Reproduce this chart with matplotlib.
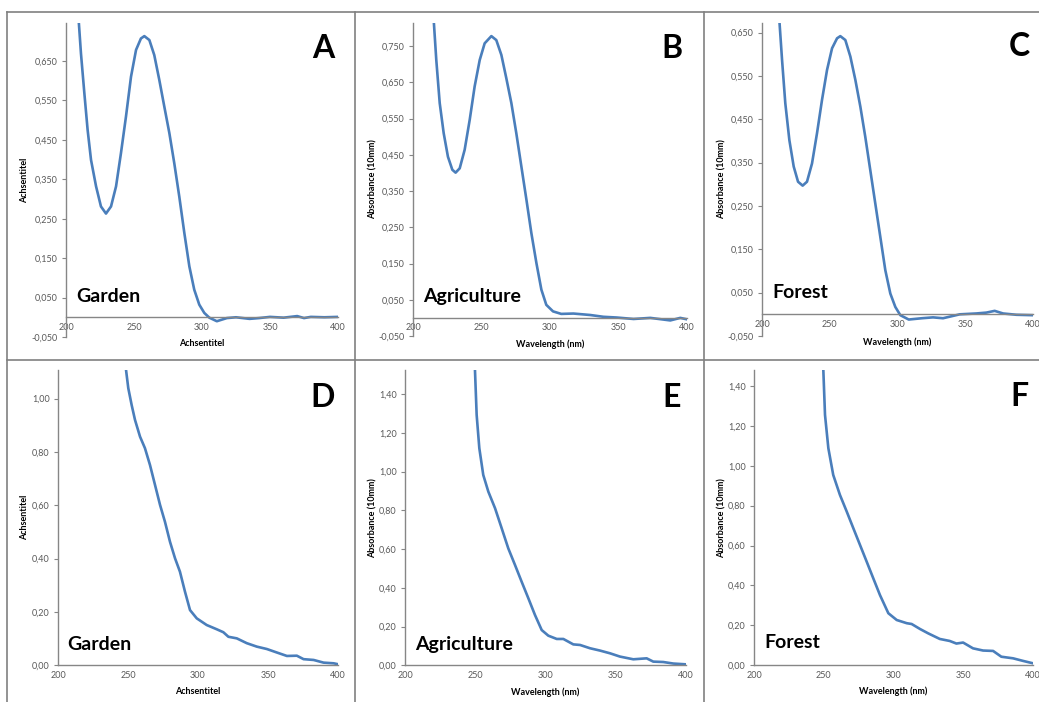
import numpy as np
import matplotlib
matplotlib.use("Agg")
import matplotlib.pyplot as plt
from matplotlib.ticker import FuncFormatter

W, H = 1039, 702

# --- data (wavelength nm, absorbance) ---
a_x = [209.3, 211.0, 213.5, 215.9, 218.4, 222.1, 225.7, 229.4, 233.1, 236.8, 240.4, 244.1,
       247.8, 251.5, 255.1, 257.6, 261.3, 264.9, 268.6, 272.3, 276.0, 279.6, 283.3, 287.0,
       290.7, 294.3, 298.0, 301.7, 305.4, 310.9, 318.3, 325, 335, 342, 350, 360, 370, 375,
       380, 390, 400]
a_y = [0.754, 0.669, 0.568, 0.475, 0.399, 0.332, 0.281, 0.263, 0.281, 0.332, 0.416, 0.509,
       0.610, 0.678, 0.707, 0.713, 0.703, 0.665, 0.602, 0.534, 0.467, 0.391, 0.306, 0.214,
       0.129, 0.070, 0.032, 0.011, -0.001, -0.010, -0.002, 0.0, -0.004, -0.002, 0.001, -0.001,
       0.003, -0.002, 0.001, 0.0, 0.001]

b_x = [215.1, 217.0, 219.5, 222.4, 225.5, 228.7, 231.1, 234.1, 237.7, 241.4, 245.0, 248.7,
       252.3, 257.2, 260.8, 264.5, 268.1, 271.8, 275.4, 279.1, 282.8, 286.4, 290.1, 293.7,
       297.3, 302.2, 308.2, 317.1, 329.3, 339.0, 348.8, 361.0, 373.2, 387.8, 395.1, 400]
b_y = [0.823, 0.712, 0.593, 0.510, 0.445, 0.409, 0.401, 0.413, 0.464, 0.547, 0.639, 0.712,
       0.758, 0.778, 0.767, 0.726, 0.662, 0.593, 0.510, 0.418, 0.326, 0.234, 0.151, 0.078,
       0.036, 0.018, 0.011, 0.012, 0.008, 0.003, 0.001, -0.003, 0.0, -0.007, 0.0, -0.004]

c_x = [212.8, 214.8, 217.2, 220.2, 223.4, 226.6, 230.0, 233.2, 236.9, 240.6, 244.3, 248.0,
       251.7, 255.4, 257.8, 261.5, 265.2, 268.9, 272.6, 276.2, 279.9, 283.6, 287.3, 291.0,
       294.7, 298.4, 302.1, 308.3, 318.0, 326.2, 333.6, 345.9, 358.2, 365.6, 371.7, 377.9,
       387.7, 400]
c_y = [0.679, 0.587, 0.487, 0.402, 0.341, 0.306, 0.297, 0.306, 0.348, 0.418, 0.495, 0.564,
       0.614, 0.637, 0.642, 0.633, 0.595, 0.541, 0.479, 0.410, 0.333, 0.256, 0.179, 0.102,
       0.048, 0.017, -0.002, -0.012, -0.009, -0.007, -0.009, 0.0, 0.002, 0.004, 0.008, 0.002,
       -0.001, -0.002]

d_x = [248.6, 250.2, 252.6, 255.0, 258.6, 262.1, 265.7, 269.3, 272.9, 276.4, 280.0, 283.6,
       287.1, 290.7, 294.3, 299.1, 306.2, 313.4, 318.1, 321.7, 327.7, 334.8, 342.0, 349.2,
       356.3, 363.5, 370.6, 375.4, 382.6, 389.7, 396.9, 400]
d_y = [1.107, 1.039, 0.976, 0.920, 0.857, 0.814, 0.751, 0.676, 0.601, 0.538, 0.463, 0.401,
       0.351, 0.276, 0.207, 0.176, 0.151, 0.135, 0.124, 0.107, 0.101, 0.083, 0.070, 0.061,
       0.048, 0.035, 0.036, 0.023, 0.020, 0.010, 0.0075, 0.004]

e_x = [249.8, 251.0, 252.9, 255.7, 259.3, 264.1, 268.8, 273.5, 278.3, 283.0, 287.8, 292.5,
       297.3, 302.0, 308.0, 312.7, 319.8, 324.6, 331.7, 338.8, 345.9, 353.0, 362.5, 372.0,
       376.7, 383.8, 391.0, 400]
e_y = [1.525, 1.293, 1.121, 0.983, 0.897, 0.811, 0.708, 0.604, 0.518, 0.432, 0.346, 0.260,
       0.182, 0.153, 0.136, 0.136, 0.108, 0.105, 0.088, 0.076, 0.062, 0.045, 0.031, 0.036,
       0.019, 0.017, 0.009, 0.005]

f_x = [249.7, 250.9, 253.3, 256.8, 261.6, 266.5, 271.2, 276.0, 280.8, 285.5, 290.3, 296.3,
       302.3, 309.5, 313.0, 319.0, 324.9, 333.2, 340.3, 345.1, 349.9, 357.0, 364.2, 371.4,
       377.3, 385.7, 392.9, 400]
f_y = [1.480, 1.255, 1.088, 0.954, 0.854, 0.770, 0.687, 0.603, 0.519, 0.436, 0.352, 0.261,
       0.227, 0.211, 0.207, 0.182, 0.160, 0.132, 0.122, 0.109, 0.114, 0.085, 0.074, 0.072,
       0.043, 0.035, 0.022, 0.010]

letters = ["A", "B", "C", "D", "E", "F"]
sites = ["Garden", "Agriculture", "Forest", "Garden", "Agriculture", "Forest"]
x_titles = ["Achsentitel", "Wavelength (nm)", "Wavelength (nm)",
            "Achsentitel", "Wavelength (nm)", "Wavelength (nm)"]
y_titles = ["Achsentitel", "Absorbance (10mm)", "Absorbance (10mm)",
            "Achsentitel", "Absorbance (10mm)", "Absorbance (10mm)"]

series = [(a_x, a_y), (b_x, b_y), (c_x, c_y), (d_x, d_y), (e_x, e_y), (f_x, f_y)]

# panel geometry in pixels: left, right, top, bottom, ymin, ymax, ytick max, step, decimals
panels = [
    (66, 338, 22.7, 337, -0.05, 0.747, 0.65, 0.1, 3),
    (413, 687, 22.7, 336, -0.05, 0.815, 0.75, 0.1, 3),
    (762, 1033, 22.7, 336, -0.05, 0.673, 0.65, 0.1, 3),
    (58, 338, 370, 665.3, 0.0, 1.107, 1.0, 0.2, 2),
    (405, 686, 370, 665.3, 0.0, 1.525, 1.4, 0.2, 2),
    (754, 1033, 370, 665.3, 0.0, 1.48, 1.4, 0.2, 2),
]
# text positions in pixels: site label (left, baseline), letter centre, xlabel y, ylabel x
texts = [
    (76, 302, 323, 48, 343, 25),
    (423, 302, 672, 48, 344, 373),
    (772, 298, 1019, 47, 342, 722),
    (67, 650, 323, 398, 692, 25),
    (415, 650, 672, 398, 692, 373),
    (764, 648, 1019, 397, 691, 722),
]

blue = "#4A7EBB"
grey = "#868686"
tick_col = "#595959"

fig = plt.figure(figsize=(W / 100, H / 100), dpi=100)


def fx(px):
    return px / W


def fy(py):
    return 1 - py / H


for i in range(6):
    l, r, t, b, ymin, ymax, ytop, step, dec = panels[i]
    ax = fig.add_axes([fx(l), fy(b), (r - l) / W, (b - t) / H])
    ax.plot(series[i][0], series[i][1], color=blue, lw=1.9, solid_joinstyle="round",
            solid_capstyle="round")
    ax.set_xlim(200, 400)
    ax.set_ylim(ymin, ymax)
    ax.set_xticks([200, 250, 300, 350, 400])
    ax.set_yticks(np.round(np.arange(ymin, ytop + step / 2, step), 3))
    ax.yaxis.set_major_formatter(
        FuncFormatter(lambda v, p, d=dec: f"{v:.{d}f}".replace(".", ",")))
    for s in ["top", "right"]:
        ax.spines[s].set_visible(False)
    ax.spines["bottom"].set_position(("data", 0))
    for s in ["left", "bottom"]:
        ax.spines[s].set_color(grey)
        ax.spines[s].set_linewidth(1.0)
    ax.tick_params(colors=grey, labelcolor=tick_col, labelsize=6.5, length=3, width=0.8,
                   pad=3)
    ax.tick_params(axis="x", length=0, pad=4)
    for lab in ax.get_xticklabels() + ax.get_yticklabels():
        lab.set_fontfamily("Lato")
    ax.set_facecolor("none")

    sx, sy, lx, ly, xl_y, yl_x = texts[i]
    fig.text(fx(sx), fy(sy), sites[i], fontsize=14, fontweight="bold", family="Lato",
             ha="left", va="baseline")
    fig.text(fx(lx), fy(ly), letters[i], fontsize=23, fontweight="bold", family="Lato",
             ha="center", va="center")
    fig.text(fx((l + r) / 2), fy(xl_y), x_titles[i], fontsize=6.5, fontweight="bold",
             family="Lato", ha="center", va="center")
    fig.text(fx(yl_x), fy((t + b) / 2), y_titles[i], fontsize=6.5, fontweight="bold",
             family="Lato", ha="center", va="center", rotation=90)

# table-like frame lines around the panels
frame = dict(color="#808080", lw=1.2, transform=fig.transFigure)
fig.add_artist(plt.Line2D([fx(7), 1], [fy(12), fy(12)], **frame))
fig.add_artist(plt.Line2D([fx(7), 1], [fy(360), fy(360)], **frame))
for xv in [7, 355, 704]:
    fig.add_artist(plt.Line2D([fx(xv), fx(xv)], [fy(12), 0], **frame))

fig.savefig("out.png", dpi=100)
